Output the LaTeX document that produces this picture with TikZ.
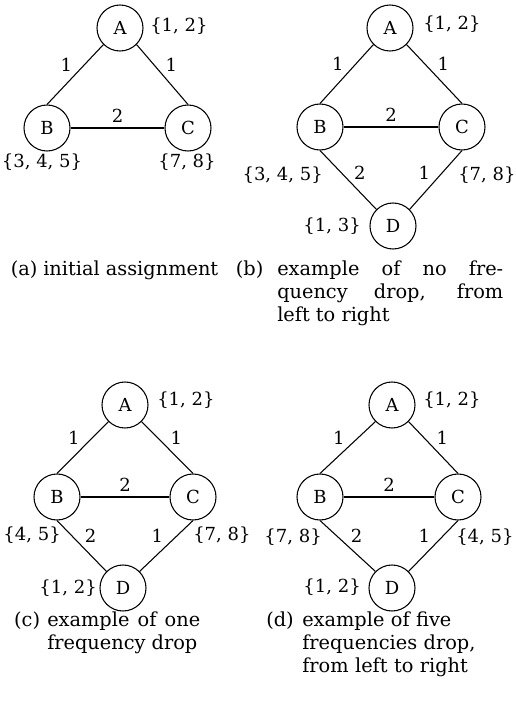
\documentclass[tikz,border=0pt]{standalone}
\usepackage{fontspec}
\setmainfont{DejaVu Serif}
\usepackage{tikz}
\usetikzlibrary{positioning}

\begin{document}
\begin{tikzpicture}[x=0.75pt,y=-0.75pt,
  font=\fontsize{13.5}{17.6}\selectfont,
  vertex/.style={circle,draw,line width=0.8pt,minimum size=34.5pt,inner sep=0pt},
  link/.style={line width=0.8pt},
  wt/.style={inner sep=2pt},
  freqset/.style={inner sep=0pt},
  subcap/.style={anchor=base west,inner sep=0pt,font=\fontsize{14.5}{17.6}\selectfont}]
  \useasboundingbox (0,0) rectangle (516,710);

  % (a) initial assignment
  \node[vertex] (Aa) at (120,28) {A};
  \node[vertex] (Ba) at (47,128) {B};
  \node[vertex] (Ca) at (188,128) {C};
  \draw[link] (Aa.south west) -- node[wt,above left] (wABa) {1} (Ba.north);
  \draw[link] (Aa.south east) -- node[wt,above right] (wACa) {1} (Ca.north);
  \draw[link] (Ba) -- node[wt,above=2pt] (wBCa) {2} (Ca);
  \node[freqset,anchor=west] (fAa) at (150,26) {\{1, 2\}};
  \node[freqset] (fBa) at (42,162) {\{3, 4, 5\}};
  \node[freqset] (fCa) at (187,162) {\{7, 8\}};

  % (b) no drop
  \node[vertex] (Ab) at (390,28) {A};
  \node[vertex] (Bb) at (320,127) {B};
  \node[vertex] (Cb) at (462,127) {C};
  \node[vertex] (Db) at (393,226) {D};
  \draw[link] (Ab.south west) -- node[wt,above left] (wABb) {1} (Bb.north);
  \draw[link] (Ab.south east) -- node[wt,above right] (wACb) {1} (Cb.north);
  \draw[link] (Bb) -- node[wt,above=2pt] (wBCb) {2} (Cb);
  \draw[link] (Bb.south) -- node[wt,pos=0.55,above right] (wBDb) {2} (Db.north west);
  \draw[link] (Cb.south) -- node[wt,pos=0.55,above left] (wCDb) {1} (Db.north east);
  \node[freqset,anchor=west] (fAb) at (423,24) {\{1, 2\}};
  \node[freqset,anchor=east] (fBb) at (323,175) {\{3, 4, 5\}};
  \node[freqset,anchor=west] (fCb) at (458,175) {\{7, 8\}};
  \node[freqset,anchor=east] (fDb) at (361,226) {\{1, 3\}};

  % (c) one drop
  \node[vertex] (Ac) at (125,405) {A};
  \node[vertex] (Bc) at (57,497) {B};
  \node[vertex] (Cc) at (193,497) {C};
  \node[vertex] (Dc) at (123,588) {D};
  \draw[link] (Ac.south west) -- node[wt,above left] (wABc) {1} (Bc.north);
  \draw[link] (Ac.south east) -- node[wt,above right] (wACc) {1} (Cc.north);
  \draw[link] (Bc) -- node[wt,above=2pt] (wBCc) {2} (Cc);
  \draw[link] (Bc.south) -- node[wt,above right] (wBDc) {2} (Dc.north west);
  \draw[link] (Cc.south) -- node[wt,above left] (wCDc) {1} (Dc.north east);
  \node[freqset,anchor=west] (fAc) at (157,400) {\{1, 2\}};
  \node[freqset,anchor=east] (fBc) at (61,535) {\{4, 5\}};
  \node[freqset,anchor=west] (fCc) at (193,535) {\{7, 8\}};
  \node[freqset,anchor=east] (fDc) at (97,588) {\{1, 2\}};

  % (d) five drops
  \node[vertex] (Ad) at (392,405) {A};
  \node[vertex] (Bd) at (320,497) {B};
  \node[vertex] (Cd) at (458,497) {C};
  \node[vertex] (Dd) at (392,588) {D};
  \draw[link] (Ad.south west) -- node[wt,above left] (wABd) {1} (Bd.north);
  \draw[link] (Ad.south east) -- node[wt,above right] (wACd) {1} (Cd.north);
  \draw[link] (Bd) -- node[wt,above=2pt] (wBCd) {2} (Cd);
  \draw[link] (Bd.south) -- node[wt,above right] (wBDd) {2} (Dd.north west);
  \draw[link] (Cd.south) -- node[wt,above left] (wCDd) {1} (Dd.north east);
  \node[freqset,anchor=west] (fAd) at (423,400) {\{1, 2\}};
  \node[freqset,anchor=east] (fBd) at (322,537) {\{7, 8\}};
  \node[freqset,anchor=west] (fCd) at (456,537) {\{4, 5\}};
  \node[freqset,anchor=east] (fDd) at (361,587) {\{1, 2\}};

  % captions
  \node[subcap] (ta) at (43,275) {initial assignment};
  \node[subcap,anchor=base east] (la) at ([xshift=-4pt]ta.base west) {(a)};
  \node[subcap,text width=169.5pt,align=justify] (tb) at (277,275)
    {example of no fre-\linebreak quency drop, from\linebreak left to right};
  \node[subcap,anchor=base east] (lb) at ([xshift=-10pt]tb.base west) {(b)};
  \node[subcap,text width=114.75pt,align=justify] (tc) at (47,626)
    {example of one\linebreak frequency drop};
  \node[subcap,anchor=base east] (lc) at ([xshift=-5pt]tc.base west) {(c)};
  \node[subcap,text width=165pt,align=left] (td) at (302,626)
    {example of five\\frequencies drop,\\from left to right};
  \node[subcap,anchor=base east] (ld) at ([xshift=-6pt]td.base west) {(d)};
\end{tikzpicture}
\end{document}
